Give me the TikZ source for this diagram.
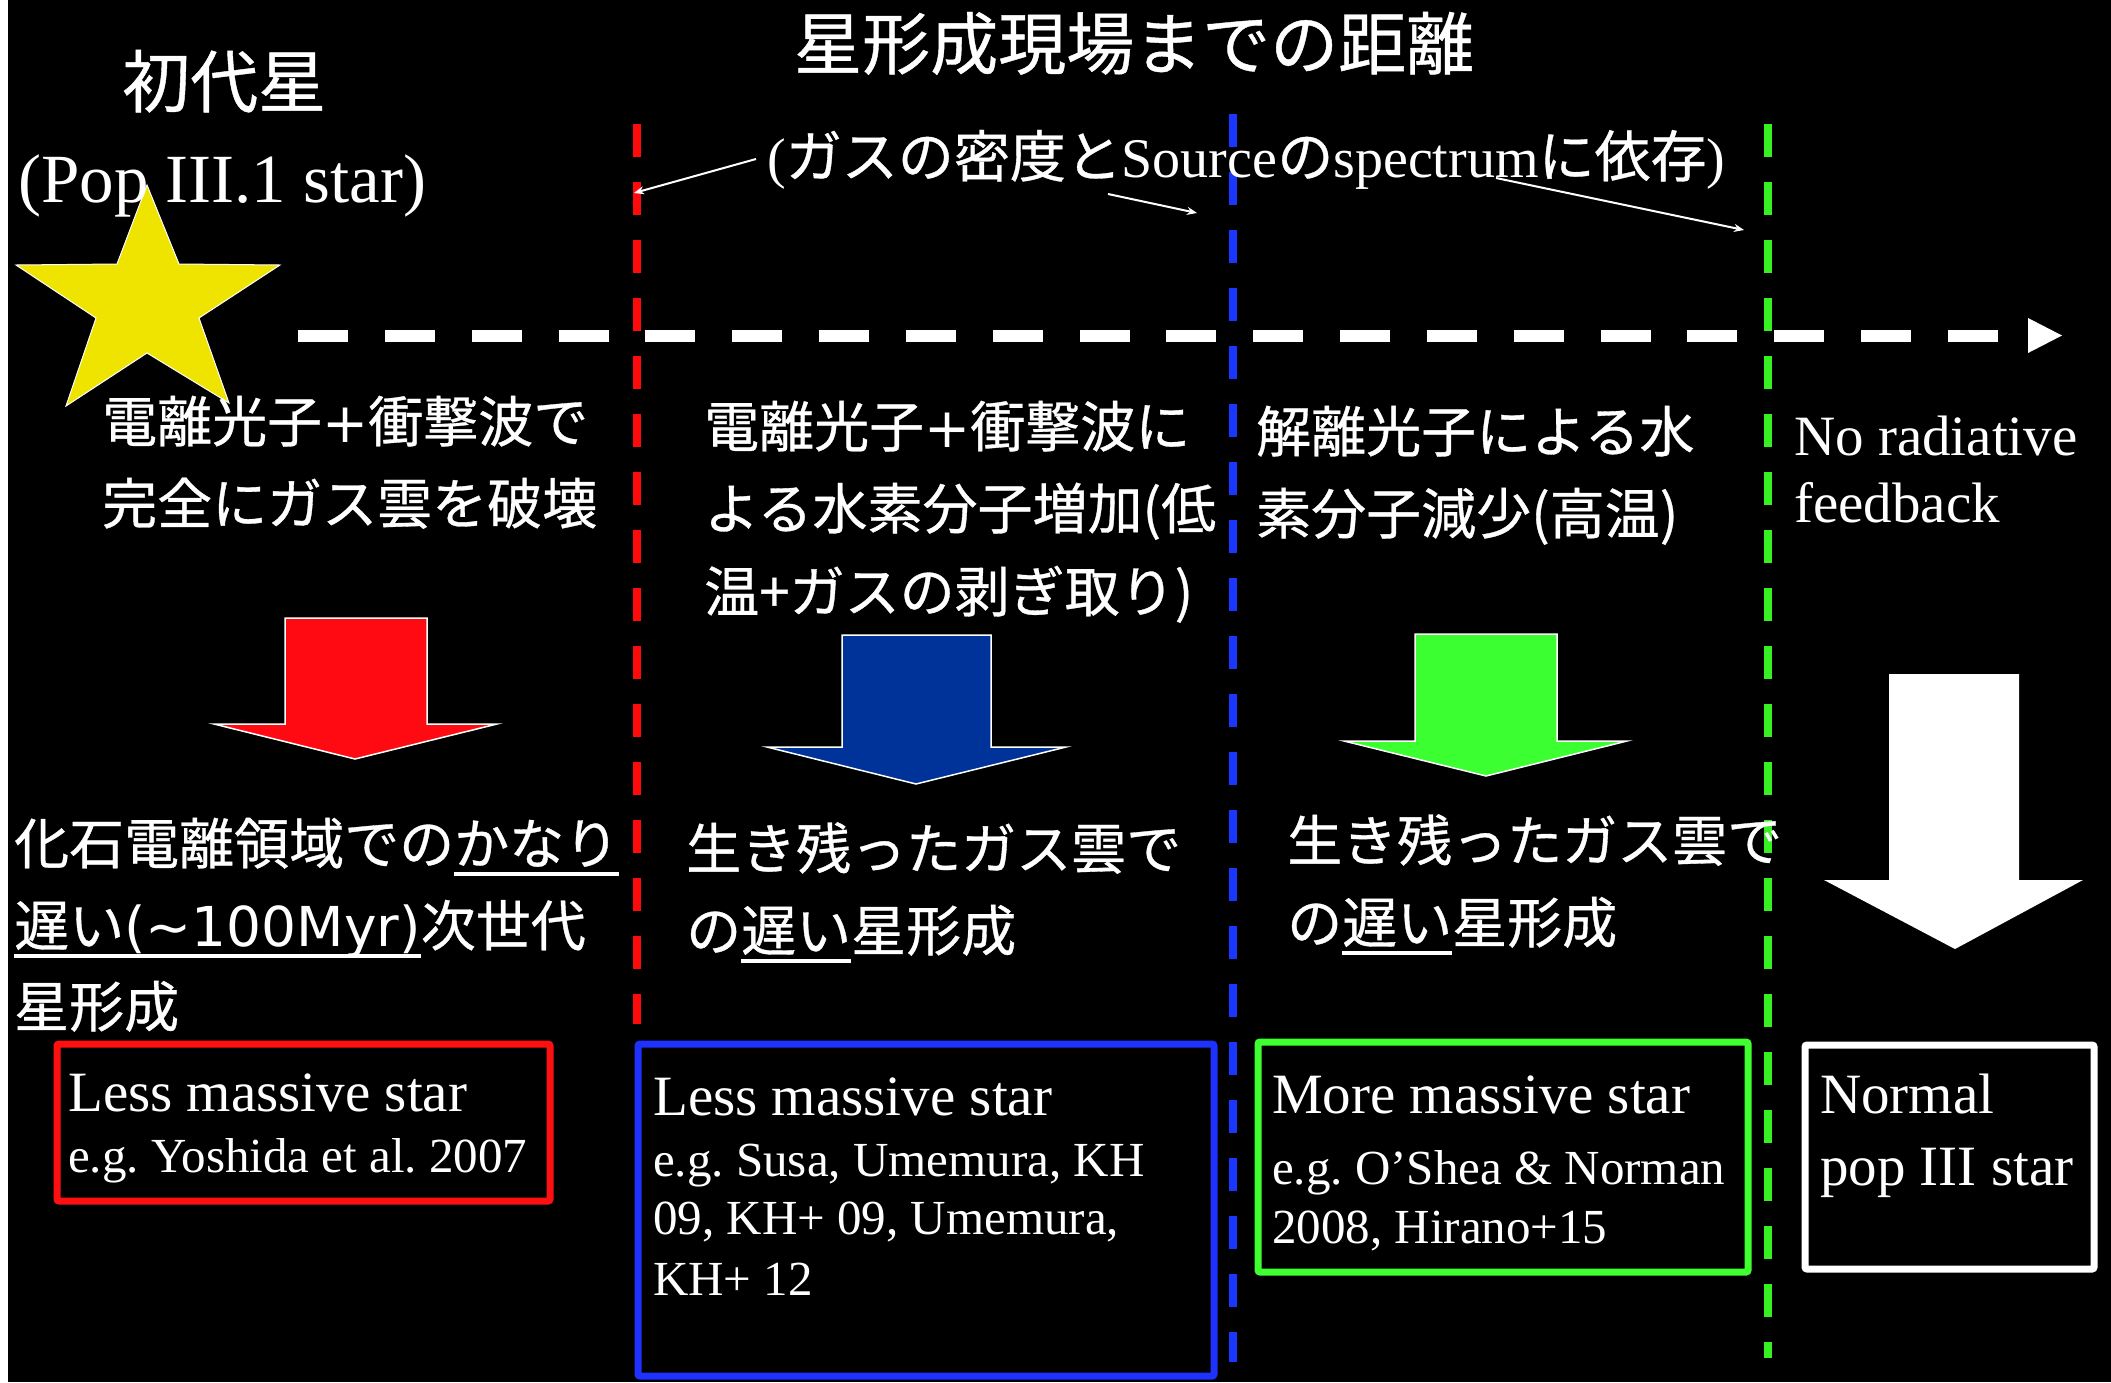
\documentclass[tikz,border=0pt]{standalone}
\usepackage{fontspec}
\setmainfont{Liberation Serif}
\newfontfamily\jp[FakeBold=0.6]{Noto Sans CJK JP}
\newfontfamily\djv{DejaVu Sans}
\usetikzlibrary{arrows.meta}
\definecolor{dred}{RGB}{255,10,10}
\definecolor{dblue}{RGB}{25,55,255}
\definecolor{dgreen}{RGB}{55,240,35}
\definecolor{ared}{RGB}{255,10,18}
\definecolor{ablue}{RGB}{0,51,153}
\definecolor{agreen}{RGB}{60,255,50}
\definecolor{starY}{RGB}{238,228,0}
\definecolor{bred}{RGB}{255,16,16}
\definecolor{bblue}{RGB}{30,50,255}
\definecolor{bgreen}{RGB}{64,255,48}
\newcommand\ulbar[1]{\setbox0=\hbox{#1}\rlap{\rule[-12pt]{\wd0}{4pt}}\box0}
\newcommand\plus{{\djv +}}
\frenchspacing
\tikzset{
  jl/.style={inner sep=0pt, anchor=base west, text=white, font=\jp\fontsize{55}{66}\selectfont},
  jtitle/.style={inner sep=0pt, anchor=base west, text=white, font=\jp\fontsize{68}{80}\selectfont},
  rl/.style={inner sep=0pt, anchor=base west, text=white, font=\fontsize{57}{66}\selectfont},
  rs/.style={inner sep=0pt, anchor=base west, text=white, font=\fontsize{49}{58}\selectfont},
  vdash/.style={line width=8pt, dash pattern=on 33pt off 25pt},
  barrow/.style={draw=white, line width=1.5pt, line join=miter},
  resbox/.style={line width=7pt, rounded corners=2pt},
  thinarrow/.style={draw=white, line width=2pt, -{Stealth[length=10pt,width=8pt]}}
}
\begin{document}
\begin{tikzpicture}[x=1pt,y=-1pt]
\useasboundingbox (0,0) rectangle (2111,1382);
\fill[white] (0,0) rectangle (2111,1382);
\fill[black] (8,0) rectangle (2111,1382);

% star
\filldraw[fill=starY, draw=white, line width=1pt]
  (147,185) -- (179,264) -- (280,265) -- (199,318) -- (229,403) -- (147,353)
  -- (66,406) -- (96,318) -- (16,265) -- (117,264) -- cycle;

% horizontal dashed axis
\coordinate (axs) at (298,336);
\coordinate (axe) at (1998,336);
\draw[white, line width=12pt, dash pattern=on 50pt off 36.84pt] (axs) -- (axe);
\fill[white] (2028,318) -- (2062,335.5) -- (2028,353) -- cycle;

% vertical dashed boundaries
\coordinate (rt) at (637,124); \coordinate (rb) at (637,1024);
\coordinate (bt) at (1233,114); \coordinate (bb) at (1233,1362);
\coordinate (gt) at (1768,124); \coordinate (gb) at (1768,1358);
\draw[vdash, dred] (rt) -- (rb);
\draw[vdash, dblue] (bt) -- (bb);
\draw[vdash, dgreen] (gt) -- (gb);

% block arrows
\filldraw[barrow, fill=ared] (285,618) -- (427,618) -- (427,724) -- (497,724) -- (355,759) -- (214,724) -- (285,724) -- cycle;
\filldraw[barrow, fill=ablue] (842,635) -- (991,635) -- (991,747) -- (1066,747) -- (916,784) -- (767,747) -- (842,747) -- cycle;
\filldraw[barrow, fill=agreen] (1415,634) -- (1557,634) -- (1557,741) -- (1627,741) -- (1486,776) -- (1344,741) -- (1415,741) -- cycle;
\fill[white] (1889,674) -- (2019,674) -- (2019,880) -- (2083,880) -- (1955,949) -- (1824,880) -- (1889,880) -- cycle;

% result boxes
\draw[resbox, bred] (57,1044) rectangle (550,1201);
\draw[resbox, bblue] (638,1044) rectangle (1214,1376);
\draw[resbox, bgreen] (1258,1042) rectangle (1748,1272);
\draw[resbox, white] (1805,1045) rectangle (2094,1269);

% titles
\node[jtitle] (title) at (794,69) {星形成現場までの距離};
\node[jtitle] (first) at (122,107) {初代星};
\node[inner sep=0pt, anchor=base west, text=white, font=\fontsize{69}{80}\selectfont] (pop) at (18,202) {(Pop III.1 star)};
\node[inner sep=0pt, anchor=base west, text=white, font=\fontsize{56}{64}\selectfont] (dep) at (767,177)
  {({\jp ガスの密度と}Source{\jp の}spectrum{\jp に依存})};

% upper descriptions
\node[jl] (c1a) at (102,442) {電離光子\plus 衝撃波で};
\node[jl] (c1b) at (102,524) {完全にガス雲を破壊};
\node[jl] (c2a) at (704,447) {電離光子\plus 衝撃波に};
\node[jl] (c2b) at (704,529) {よる水素分子増加(低};
\node[jl] (c2c) at (704,612) {温+ガスの剥ぎ取り)};
\node[jl] (c3a) at (1256,452) {解離光子による水};
\node[jl] (c3b) at (1256,534) {素分子減少(高温)};
\node[rl] (c4a) at (1794,455) {No radiative};
\node[rl] (c4b) at (1794,522) {feedback};

% lower descriptions
\node[jl] (d1a) at (14,864) {化石電離領域での\ulbar{かなり}};
\node[jl] (d1b) at (14,946) {\ulbar{遅い{\djv (\char"7E 100Myr)}}次世代};
\node[jl] (d1c) at (14,1027) {星形成};
\node[jl] (d2a) at (686,869) {生き残ったガス雲で};
\node[jl] (d2b) at (686,951) {の\ulbar{遅い}星形成};
\node[jl] (d3a) at (1287,861) {生き残ったガス雲で};
\node[jl] (d3b) at (1287,943) {の\ulbar{遅い}星形成};

% box texts
\node[rl] (r1) at (68,1111) {Less massive star};
\node[rs] (r2) at (68,1172) {e.g. Yoshida et al. 2007};
\node[rl] (b1) at (653,1115) {Less massive star};
\node[rs] (b2) at (653,1176) {e.g. Susa, Umemura, KH};
\node[rs] (b3) at (653,1234) {09, KH+ 09, Umemura,};
\node[rs] (b4) at (653,1295) {KH+ 12};
\node[rl] (g1) at (1272,1113) {More massive star};
\node[rs] (g2) at (1272,1184) {e.g. O’Shea \& Norman};
\node[rs] (g3) at (1272,1243) {2008, Hirano+15};
\node[rl] (w1) at (1820,1113) {Normal};
\node[rl] (w2) at (1820,1185) {pop III star};

% thin pointer arrows
\coordinate (p1s) at (756,159); \coordinate (p1e) at (634,193);
\coordinate (p2s) at (1108,194); \coordinate (p2e) at (1197,213);
\coordinate (p3s) at (1496,178); \coordinate (p3e) at (1744,230);
\draw[thinarrow] (p1s) -- (p1e);
\draw[thinarrow] (p2s) -- (p2e);
\draw[thinarrow] (p3s) -- (p3e);
\end{tikzpicture}
\end{document}
